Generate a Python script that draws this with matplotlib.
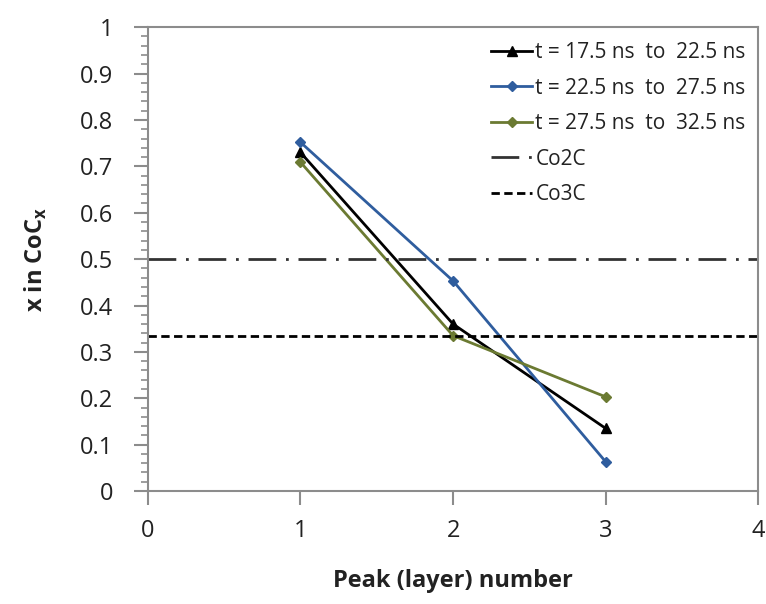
import matplotlib
matplotlib.use("Agg")
import matplotlib.pyplot as plt
from matplotlib.ticker import MultipleLocator

plt.rcParams['font.family'] = ['Open Sans', 'DejaVu Sans']

peaks = [1, 2, 3]
s1 = [0.73, 0.36, 0.135]   # t = 17.5 to 22.5 ns
s2 = [0.752, 0.453, 0.063] # t = 22.5 to 27.5 ns
s3 = [0.709, 0.335, 0.203] # t = 27.5 to 32.5 ns
co2c = 0.5
co3c = 1 / 3
labels = ["t = 17.5 ns  to  22.5 ns", "t = 22.5 ns  to  27.5 ns",
          "t = 27.5 ns  to  32.5 ns", "Co2C", "Co3C"]
xticks = [0, 1, 2, 3, 4]
yticks = [0, 0.1, 0.2, 0.3, 0.4, 0.5, 0.6, 0.7, 0.8, 0.9, 1]

fig = plt.figure(figsize=(7.66, 6.04), dpi=100)
ax = fig.add_axes([0.193, 0.187, 0.797, 0.768])

ax.plot(peaks, s1, color='black', lw=2, marker='^', ms=7, label=labels[0])
ax.plot(peaks, s2, color='#2f5d9e', lw=2, marker='D', ms=5, label=labels[1])
ax.plot(peaks, s3, color='#6b7a32', lw=2, marker='D', ms=5, label=labels[2])
ax.axhline(co2c, color='#333333', lw=2, dashes=(10, 3.5, 1, 3.5), label=labels[3])
ax.axhline(co3c, color='black', lw=2, dashes=(3, 1.6), label=labels[4])

ax.set_xlim(0, 4)
ax.set_ylim(0, 1)
ax.set_xticks(xticks)
ax.set_xticklabels([str(v) for v in xticks])
ax.set_yticks(yticks)
ax.set_yticklabels(['0' if v == 0 else ('1' if v == 1 else f'{v:g}') for v in yticks])
ax.yaxis.set_minor_locator(MultipleLocator(0.02))

for sp in ax.spines.values():
    sp.set_color('#8c8c8c')
    sp.set_linewidth(1.5)

ax.tick_params(axis='x', which='major', direction='out', length=10, width=1.5,
               color='#8c8c8c', labelsize=17, labelcolor='#222222', pad=10)
ax.tick_params(axis='y', which='major', direction='out', length=10, width=1.5,
               color='#8c8c8c', labelsize=17, labelcolor='#222222', pad=15)
ax.tick_params(axis='y', which='minor', direction='out', length=5, width=1.2,
               color='#8c8c8c')

ax.set_xlabel('Peak (layer) number', fontsize=17, fontweight='bold', labelpad=19, color='#222222')
ax.set_ylabel(r'x in CoC$_\mathregular{x}$', fontsize=17, fontweight='bold', labelpad=22, color='#222222')

leg = ax.legend(loc='upper right', bbox_to_anchor=(1.0, 0.995), frameon=False,
                fontsize=15, handlelength=2.0, handletextpad=0.15, labelspacing=0.7,
                borderaxespad=0.2)
for t in leg.get_texts():
    t.set_color('#222222')

fig.savefig('out.png', dpi=100)
